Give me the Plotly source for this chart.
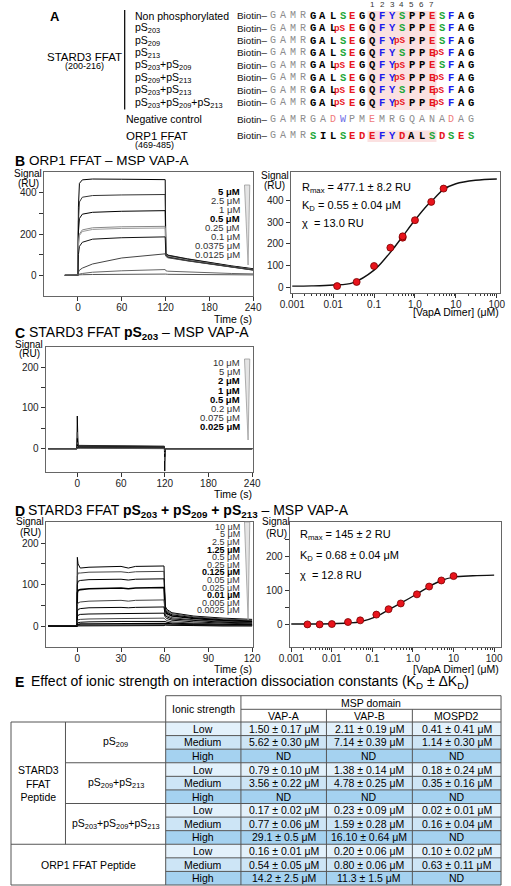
import math
import plotly.graph_objects as go

W, H = 511, 886
FONT = "Liberation Sans, Arial, sans-serif"
MONO = "Liberation Mono, DejaVu Sans Mono, monospace"

def px(x):
    return x / W

def py(y):
    return 1 - y / H

# ---------------- Panel A data ----------------
a_row_labels = ["Non phosphorylated", "pS<sub>203</sub>", "pS<sub>209</sub>", "pS<sub>213</sub>",
                "pS<sub>203</sub>+pS<sub>209</sub>", "pS<sub>209</sub>+pS<sub>213</sub>",
                "pS<sub>203</sub>+pS<sub>213</sub>", "pS<sub>203</sub>+pS<sub>209</sub>+pS<sub>213</sub>"]
a_phospho = [[], [203], [209], [213], [203, 209], [209, 213], [203, 213], [203, 209, 213]]
tag_seq = "GAMR"
stard3_seq = "GALSEGQFYSPPESFAG"   # residues 200-216
neg_seq = "GADWPMEMRGQANADAG"
orp1_seq = "SILSEDEFYDALSDSES"     # residues 469-485
ffat_numbers = ["1", "2", "3", "4", "5", "6", "7"]

# ---------------- Panel B data ----------------
b_conc_labels = ["5 μM", "2.5 μM", "1 μM", "0.5 μM", "0.25 μM", "0.1 μM", "0.0375 μM", "0.0125 μM"]
b_conc_bold = [True, False, False, True, False, False, False, False]
b_time = [-18, 0, 0.6, 2, 6, 20, 60, 119.5, 120.4, 123, 150, 180, 210, 240]
b_curves = [
    [0, 0, 330, 445, 462, 466, 465, 463, 110, 98, 80, 62, 46, 32],
    [0, 0, 260, 355, 378, 386, 389, 391, 106, 96, 78, 60, 44, 30],
    [0, 0, 210, 275, 296, 305, 310, 313, 104, 94, 76, 58, 43, 29],
    [0, 0, 150, 200, 220, 230, 235, 237, 102, 92, 74, 57, 42, 28],
    [0, 0, 140, 193, 212, 222, 227, 229, 100, 90, 73, 56, 41, 27],
    [0, 0, 100, 140, 160, 175, 182, 186, 98, 88, 71, 55, 40, 26],
    [0, 0, 15, 25, 35, 55, 84, 104, 92, 85, 70, 54, 39, 25],
    [0, 0, 3, 6, 9, 15, 22, 28, 22, 20, 16, 12, 9, 7],
    [0, 0, 1, 2, 3, 4, 6, 8, 6, 5, 4, 3, 2, 2],
]
b_curve_colors = ["#000000", "#333333", "#000000", "#888888", "#999999", "#111111", "#444444", "#666666", "#555555"]
b_fit_conc = [0.0125, 0.0375, 0.1, 0.25, 0.5, 0.5, 1, 2.5, 5]
b_fit_resp = [7, 26, 99, 183, 229, 235, 309, 393, 454]
b_curve_x = [0.001, 0.003, 0.01, 0.03, 0.1, 0.2, 0.3, 0.5, 1, 2, 3, 5, 10, 30, 100]
b_curve_y = [7, 8, 12, 22, 80, 140, 180, 235, 310, 378, 410, 450, 476, 492, 498]

# ---------------- Panel C data ----------------
c_conc_labels = ["10 μM", "5 μM", "2 μM", "1 μM", "0.5 μM", "0.2 μM", "0.075 μM", "0.025 μM"]
c_conc_bold = [False, False, True, True, True, False, False, True]
c_time = [-40, -0.5, 0, 0.4, 1, 5, 118.5, 119.5, 120, 120.5, 122, 240]
c_curves = [
    [0, 0, 80, 10, 8, 8, 6, 6, -55, -2, 0, 0],
    [0, 0, 40, 8, 7, 7, 5, 5, -30, -1, 0, 0],
    [0, 0, 25, 7, 6, 6, 4, 4, -20, 0, 0, 0],
    [0, 0, 15, 6, 5, 5, 3, 3, -12, 0, 0, 0],
    [0, 0, 10, 5, 4, 4, 3, 3, -8, 0, 0, 0],
    [0, 0, 6, 3, 3, 3, 2, 2, -5, 0, 0, 0],
    [0, 0, 4, 2, 2, 2, 1, 1, -3, 0, 0, 0],
    [0, 0, 2, 1, 1, 1, 0, 0, -2, 0, 0, 0],
]

# ---------------- Panel D data ----------------
d_conc_labels = ["10 μM", "5 μM", "2.5 μM", "1.25 μM", "0.5 μM", "0.25 μM", "0.125 μM",
                 "0.05 μM", "0.025 μM", "0.01 μM", "0.005 μM", "0.0025 μM"]
d_conc_bold = [False, False, False, True, False, False, True, False, False, True, False, False]
d_time = [-20, -0.3, 0, 0.5, 2, 8, 30, 35, 40, 59.5, 60.3, 61.5, 65, 80, 100, 120]
d_curves = [
    [0, 0, 166, 150, 140, 142, 144, 140, 144, 145, 48, 40, 32, 24, 19, 16],
    [0, 0, 120, 128, 128, 130, 131, 129, 131, 132, 44, 37, 30, 22, 17, 14],
    [0, 0, 100, 108, 110, 112, 113, 111, 113, 114, 40, 34, 27, 20, 15, 12],
    [0, 0, 80, 86, 88, 90, 92, 90, 92, 93, 36, 30, 24, 18, 13, 10],
    [0, 0, 50, 56, 58, 60, 62, 60, 62, 63, 30, 25, 20, 15, 11, 8],
    [0, 0, 35, 40, 42, 44, 45, 44, 45, 46, 26, 22, 17, 13, 9, 7],
    [0, 0, 22, 26, 28, 29, 30, 30, 30, 31, 22, 18, 14, 10, 7, 5],
    [0, 0, 12, 15, 16, 17, 18, 18, 18, 19, 16, 13, 10, 7, 5, 4],
    [0, 0, 6, 8, 9, 10, 11, 11, 11, 11, 11, 9, 7, 5, 4, 3],
    [0, 0, 3, 4, 5, 5, 6, 6, 6, 6, 7, 6, 5, 3, 2, 2],
    [0, 0, 1, 2, 2, 3, 3, 3, 3, 3, 4, 3, 2, 2, 1, 1],
    [0, 0, 0, 1, 1, 1, 1, 1, 1, 1, 2, 2, 1, 1, 0, 0],
]
d_fit_conc = [0.0025, 0.005, 0.01, 0.025, 0.05, 0.125, 0.25, 0.5, 1.25, 2.5, 5, 10]
d_fit_resp = [0, 0, 1, 7, 12, 29, 45, 62, 89, 112, 130, 143]
d_curve_x = [0.001, 0.01, 0.025, 0.05, 0.125, 0.25, 0.5, 1.25, 2.5, 5, 10, 30, 100]
d_curve_y = [1, 2, 4, 8, 23, 43, 63, 90, 112, 130, 140, 144, 146]

# ---------------- Panel E data ----------------
e_groups = ["STARD3<br>FFAT<br>Peptide", "ORP1 FFAT Peptide"]
e_variants = ["pS<sub>209</sub>", "pS<sub>209</sub>+pS<sub>213</sub>",
              "pS<sub>203</sub>+pS<sub>209</sub>+pS<sub>213</sub>"]
e_domains = ["VAP-A", "VAP-B", "MOSPD2"]
e_ionic = ["Low", "Medium", "High"] * 4
kd_vapa = ["1.50 ± 0.17 μM", "5.62 ± 0.30 μM", "ND", "0.79 ± 0.10 μM", "3.56 ± 0.22 μM", "ND",
           "0.17 ± 0.02 μM", "0.77 ± 0.06 μM", "29.1 ± 0.5 μM", "0.16 ± 0.01 μM", "0.54 ± 0.05 μM", "14.2 ± 2.5 μM"]
kd_vapb = ["2.11 ± 0.19 μM", "7.14 ± 0.39 μM", "ND", "1.38 ± 0.14 μM", "4.78 ± 0.25 μM", "ND",
           "0.23 ± 0.09 μM", "1.59 ± 0.28 μM", "16.10 ± 0.64 μM", "0.20 ± 0.06 μM", "0.80 ± 0.06 μM", "11.3 ± 1.5 μM"]
kd_mospd2 = ["0.41 ± 0.41 μM", "1.14 ± 0.30 μM", "ND", "0.18 ± 0.24 μM", "0.35 ± 0.16 μM", "ND",
             "0.02 ± 0.01 μM", "0.16 ± 0.04 μM", "ND", "0.10 ± 0.02 μM", "0.63 ± 0.11 μM", "ND"]

# ======================================================
GREEN, RED, BLUE = "#1fa83a", "#e8161e", "#1b1bee"
ann = []
shapes = []


def text(x, y, s, size=10.0, anchor="left", color="black", family=FONT, yanchor="middle"):
    ann.append(dict(x=px(x), y=py(y), xref="paper", yref="paper", text=s, showarrow=False,
                    xanchor=anchor, yanchor=yanchor, borderpad=0,
                    font=dict(size=size, color=color, family=family)))


def line(x0, y0, x1, y1, color="#444", width=1):
    shapes.append(dict(type="line", xref="paper", yref="paper", x0=px(x0), y0=py(y0),
                       x1=px(x1), y1=py(y1), line=dict(color=color, width=width)))


def rect(x0, y0, x1, y1, fill, lcolor=None, layer="below"):
    shapes.append(dict(type="rect", xref="paper", yref="paper", x0=px(x0), y0=py(y0),
                       x1=px(x1), y1=py(y1), fillcolor=fill, layer=layer,
                       line=dict(width=0 if lcolor is None else 1, color=lcolor or fill)))


def wedge(x0, x1, y0, y1):
    shapes.append(dict(type="path", xref="paper", yref="paper",
                       path=f"M {px(x0)} {py(y0)} L {px(x1)} {py(y0)} L {px((x0 + x1) / 2 + 1)} {py(y1)} Z",
                       fillcolor="#e4e4e4", line=dict(color="#999", width=0.8)))


# ---------------- Panel A drawing ----------------
LX0, LDX = 273.0, 10.3
ROW0, RDY = 15.7, 12.43
SEQ_SIZE = 10.5


def strong_color(ch):
    if ch in "ST":
        return GREEN
    if ch in "DE":
        return RED
    if ch in "FYW":
        return BLUE
    return "black"


def weak_color(ch):
    if ch in "DE":
        return "#ef7a7a"
    if ch in "FYW":
        return "#6a6ae6"
    return "#8c8c8c"


def draw_tag(y):
    text(268.5, y, "Biotin–", size=9.8, color="#111", anchor="right")
    for i, ch in enumerate(tag_seq):
        text(LX0 + LDX * i, y, ch, size=10, anchor="center", color="#8c8c8c", family=MONO)


text(40, 16.7, "<b>A</b>", size=13)
line(118.3, 10, 118.3, 109.5, color="#111", width=1.3)
text(76, 57, "STARD3 FFAT", size=11.5, anchor="center")
text(77, 66, "(200-216)", size=9, anchor="center")
rect(LX0 + LDX * 10 - 5, 11, LX0 + LDX * 16 + 5, 110, "#fbe1e1")
rect(LX0 + LDX * 10 - 5, 130.5, LX0 + LDX * 16 + 5, 142, "#fbe1e1")
for k, n in enumerate(ffat_numbers):
    text(LX0 + LDX * (10 + k), 4.5, n, size=8, anchor="center", color="#333")

for r, lab in enumerate(a_row_labels):
    y = ROW0 + RDY * r
    text(128, y, lab, size=10.5)
    draw_tag(y)
    for j, ch in enumerate(stard3_seq):
        i = 4 + j
        if (200 + j) in a_phospho[r]:
            text(LX0 + LDX * i - 2.2, y, "<b>pS</b>", size=9.3, anchor="center", color=RED, family=MONO)
        else:
            text(LX0 + LDX * i, y, f"<b>{ch}</b>", size=SEQ_SIZE, anchor="center",
                 color=strong_color(ch), family=MONO)

y_neg = 119.5
text(119, y_neg, "Negative control", size=10.5)
draw_tag(y_neg)
for j, ch in enumerate(neg_seq):
    text(LX0 + LDX * (4 + j), y_neg, ch, size=10, anchor="center", color=weak_color(ch), family=MONO)

y_orp = 136
text(119, y_orp, "ORP1 FFAT", size=11.5)
text(149, 145.5, "(469-485)", size=9, anchor="center")
draw_tag(y_orp)
for j, ch in enumerate(orp1_seq):
    text(LX0 + LDX * (4 + j), y_orp, f"<b>{ch}</b>", size=SEQ_SIZE, anchor="center",
         color=strong_color(ch), family=MONO)

# ---------------- Titles ----------------
TS = 14
text(3, 160.7, "<b>B</b>", size=TS)
text(18, 160.7, "ORP1 FFAT – MSP VAP-A", size=13.5)
text(3, 333.3, "<b>C</b>", size=TS)
text(18, 333.3, "STARD3 FFAT <b>pS<sub>203</sub></b> – MSP VAP-A", size=TS)
text(3, 510.7, "<b>D</b>", size=TS)
text(17, 510.7, "STARD3 FFAT <b>pS<sub>203</sub> + pS<sub>209</sub> + pS<sub>213</sub></b> – MSP VAP-A", size=TS)
text(3, 681.7, "<b>E</b>", size=TS)
text(20, 681.7, "Effect of ionic strength on interaction dissociation constants (K<sub>D</sub> ± ΔK<sub>D</sub>)", size=TS)

# ---------------- Axis labels ----------------
for (xc, y1, y2) in [(18, 174, 183.5), (19, 344.3, 353.3), (20, 521.7, 532)]:
    text(xc, y1, "Signal", size=10, anchor="center")
    text(xc, y2, "(RU)", size=10, anchor="center")
for (xc, y1, y2) in [(274.5, 175.5, 185.5), (276, 521.7, 533)]:
    text(xc, y1, "Signal", size=10, anchor="center")
    text(xc, y2, "(RU)", size=10, anchor="center")
text(252, 318.5, "Time (s)", size=10.5, anchor="right")
text(252, 494, "Time (s)", size=10.5, anchor="right")
text(252, 668.5, "Time (s)", size=10.5, anchor="right")
text(509, 312, "[VapA Dimer] (μM)", size=10.5, anchor="right")
text(509, 668.5, "[VapA Dimer] (μM)", size=10.5, anchor="right")

# fit parameters
for (x0, ys, lines_) in [
    (302, [188, 206, 223], ["R<sub>max</sub> = 477.1 ± 8.2 RU", "K<sub>D</sub> = 0.55 ± 0.04 μM", "χ  = 13.0 RU"]),
    (300, [535, 556, 575], ["R<sub>max</sub> = 145 ± 2 RU", "K<sub>D</sub> = 0.68 ± 0.04 μM", "χ  = 12.8 RU"]),
]:
    for yy, s in zip(ys, lines_):
        text(x0, yy, s, size=11)

# ---------------- Concentration legends ----------------
def conc_legend(labels, bold, y0, dy, size):
    for k, (lab, b) in enumerate(zip(labels, bold)):
        s = f"<b>{lab}</b>" if b else lab
        text(239.5, y0 + dy * k, s, size=size, anchor="right", color="#000" if b else "#333")


conc_legend(b_conc_labels, b_conc_bold, 191, 9.1, 9.5)
wedge(243, 248.5, 185, 265)
conc_legend(c_conc_labels, c_conc_bold, 362.7, 9.15, 9.5)
wedge(243, 248.5, 359, 440)
conc_legend(d_conc_labels, d_conc_bold, 526.7, 7.6, 9)
wedge(243, 248.5, 522, 620)

# ---------------- Traces ----------------
traces = []
for k, ys in enumerate(b_curves):
    traces.append(go.Scatter(x=b_time, y=ys, mode="lines", xaxis="x", yaxis="y",
                             line=dict(color=b_curve_colors[k], width=1), hoverinfo="skip", showlegend=False))
for k, ys in enumerate(c_curves):
    traces.append(go.Scatter(x=c_time, y=ys, mode="lines", xaxis="x3", yaxis="y3",
                             line=dict(color="#000" if k % 2 == 0 else "#555", width=1),
                             hoverinfo="skip", showlegend=False))
for k, ys in enumerate(d_curves):
    traces.append(go.Scatter(x=d_time, y=ys, mode="lines", xaxis="x4", yaxis="y4",
                             line=dict(color="#000" if k % 3 != 1 else "#444", width=1.6 if k in (3, 9) else 1),
                             hoverinfo="skip", showlegend=False))
traces.append(go.Scatter(x=b_curve_x, y=b_curve_y, mode="lines", xaxis="x2", yaxis="y2",
                         line=dict(color="#111", width=1.4, shape="spline"), hoverinfo="skip", showlegend=False))
traces.append(go.Scatter(x=b_fit_conc, y=b_fit_resp, mode="markers", xaxis="x2", yaxis="y2",
                         marker=dict(color="#e8141c", size=7, line=dict(color="#7a0000", width=0.8)),
                         hoverinfo="skip", showlegend=False))
traces.append(go.Scatter(x=d_curve_x, y=d_curve_y, mode="lines", xaxis="x5", yaxis="y5",
                         line=dict(color="#111", width=1.4, shape="spline"), hoverinfo="skip", showlegend=False))
traces.append(go.Scatter(x=d_fit_conc, y=d_fit_resp, mode="markers", xaxis="x5", yaxis="y5",
                         marker=dict(color="#e8141c", size=7, line=dict(color="#7a0000", width=0.8)),
                         hoverinfo="skip", showlegend=False))

# ---------------- Table ----------------
tcols = [0, 56.7, 161, 239.3, 328.3, 417.7, 510]
thdr0, thdr1, ttop, tbot = 695.7, 709.3, 722, 885
nrows = len(e_ionic)
rh = (tbot - ttop) / nrows
fills = {"Low": "#e3f1fb", "Medium": "#cde5f6", "High": "#a5d2f0"}
TF = 10.5
for r in range(nrows):
    y0 = ttop + rh * r
    rect(tcols[2], y0, tcols[6], y0 + rh, fills[e_ionic[r]])
    yc = y0 + rh / 2
    text((tcols[2] + tcols[3]) / 2, yc, e_ionic[r], size=TF, anchor="center")
    for c, col in enumerate([kd_vapa, kd_vapb, kd_mospd2]):
        text((tcols[3 + c] + tcols[4 + c]) / 2, yc, col[r], size=TF, anchor="center")
# header
text((tcols[2] + tcols[3]) / 2, (thdr0 + ttop) / 2, "Ionic strength", size=TF, anchor="center")
text((tcols[3] + tcols[6]) / 2, (thdr0 + thdr1) / 2, "MSP domain", size=TF, anchor="center")
for c, dname in enumerate(e_domains):
    text((tcols[3 + c] + tcols[4 + c]) / 2, (thdr1 + ttop) / 2, dname, size=TF, anchor="center")
# group labels
text((tcols[0] + tcols[1]) / 2, ttop + rh * 4.5, e_groups[0], size=TF, anchor="center")
for g, v in enumerate(e_variants):
    text((tcols[1] + tcols[2]) / 2, ttop + rh * (3 * g + 1.5), v, size=TF, anchor="center")
text((tcols[0] + tcols[2]) / 2, ttop + rh * 10.5, e_groups[1], size=TF, anchor="center")
# grid lines
LC = "#555"
line(tcols[2], thdr0, tcols[6], thdr0, LC)
line(tcols[3], thdr1, tcols[6], thdr1, LC)
for r in range(nrows + 1):
    yy = ttop + rh * r
    if r in (0, 9, 12):
        x0 = tcols[0]
    elif r in (3, 6):
        x0 = tcols[1]
    else:
        x0 = tcols[2]
    line(x0, yy, tcols[6], yy, LC)
line(tcols[0], ttop, tcols[0], tbot, LC)
line(tcols[1], ttop, tcols[1], ttop + rh * 9, LC)
line(tcols[2], thdr0, tcols[2], tbot, LC)
line(tcols[3], thdr0, tcols[3], tbot, LC)
line(tcols[4], thdr1, tcols[4], tbot, LC)
line(tcols[5], thdr1, tcols[5], tbot, LC)
line(tcols[6], thdr0, tcols[6], tbot, LC)

# ---------------- Layout ----------------
axc = dict(showline=True, mirror=True, linecolor="#666", linewidth=1, ticks="outside", ticklen=4,
           tickwidth=1, tickcolor="#333", showgrid=False, zeroline=False,
           tickfont=dict(family=FONT, size=10, color="#222"))
xstand = dict(ticklabelstandoff=-2)


def dom_x(a, b):
    return [px(a), px(b)]


def dom_y(top, bottom):
    return [py(bottom), py(top)]


def log_minor():
    vals = []
    for e in range(-3, 3):
        for m in range(2, 10):
            vals.append(m * 10 ** e)
    return vals


log_ticks = [0.001, 0.01, 0.1, 1, 10, 100]
log_text = ["0.001", "0.01", "0.1", "1.0", "10", "100"]

layout = go.Layout(
    width=W, height=H, autosize=False, margin=dict(l=0, r=0, t=0, b=0),
    paper_bgcolor="white", plot_bgcolor="white",
    font=dict(family=FONT, size=10, color="black"),
    xaxis=dict(axc, **xstand, domain=dom_x(34, 252), range=[-47, 240], tickvals=[0, 60, 120, 180, 240], anchor="y"),
    yaxis=dict(axc, domain=dom_y(172, 296), range=[-100, 500], tickvals=[0, 200, 400], anchor="x",
               minor=dict(tickvals=[100, 300], ticks="outside", ticklen=4, tickcolor="#333")),
    xaxis2=dict(axc, **xstand, type="log", domain=dom_x(291, 509), range=[-3.04, 2.08], tickvals=log_ticks,
                ticktext=log_text, anchor="y2",
                minor=dict(tickvals=log_minor(), ticks="outside", ticklen=2, tickcolor="#333")),
    yaxis2=dict(axc, domain=dom_y(172, 293.3), range=[-26, 530], tickvals=[0, 100, 200, 300, 400], anchor="x2"),
    xaxis3=dict(axc, **xstand, domain=dom_x(36, 252), range=[-43.5, 241.3], tickvals=[0, 60, 120, 180, 240], anchor="y3"),
    yaxis3=dict(axc, domain=dom_y(346.7, 471.5), range=[-56, 250], tickvals=[0, 100, 200], anchor="x3",
                minor=dict(tickvals=[50, 150], ticks="outside", ticklen=4, tickcolor="#333")),
    xaxis4=dict(axc, **xstand, domain=dom_x(36, 252), range=[-21.8, 120.7], tickvals=[0, 30, 60, 90, 120], anchor="y4"),
    yaxis4=dict(axc, domain=dom_y(521.7, 646.7), range=[-50, 252], tickvals=[0, 100, 200], anchor="x4",
                minor=dict(tickvals=[50, 150], ticks="outside", ticklen=4, tickcolor="#333")),
    xaxis5=dict(axc, **xstand, type="log", domain=dom_x(290, 510), range=[-3.04, 2.17], tickvals=log_ticks,
                ticktext=log_text, anchor="y5",
                minor=dict(tickvals=log_minor(), ticks="outside", ticklen=2, tickcolor="#333")),
    yaxis5=dict(axc, domain=dom_y(521.7, 646.7), range=[-66, 304], tickvals=[0, 100, 200], anchor="x5",
                minor=dict(tickvals=[50, 150, 250], ticks="outside", ticklen=4, tickcolor="#333")),
    annotations=ann, shapes=shapes,
)

fig = go.Figure(data=traces, layout=layout)
fig.write_html("out.html", config={"displayModeBar": False},
               post_script="document.body.style.margin='0';document.body.style.overflow='hidden';")
